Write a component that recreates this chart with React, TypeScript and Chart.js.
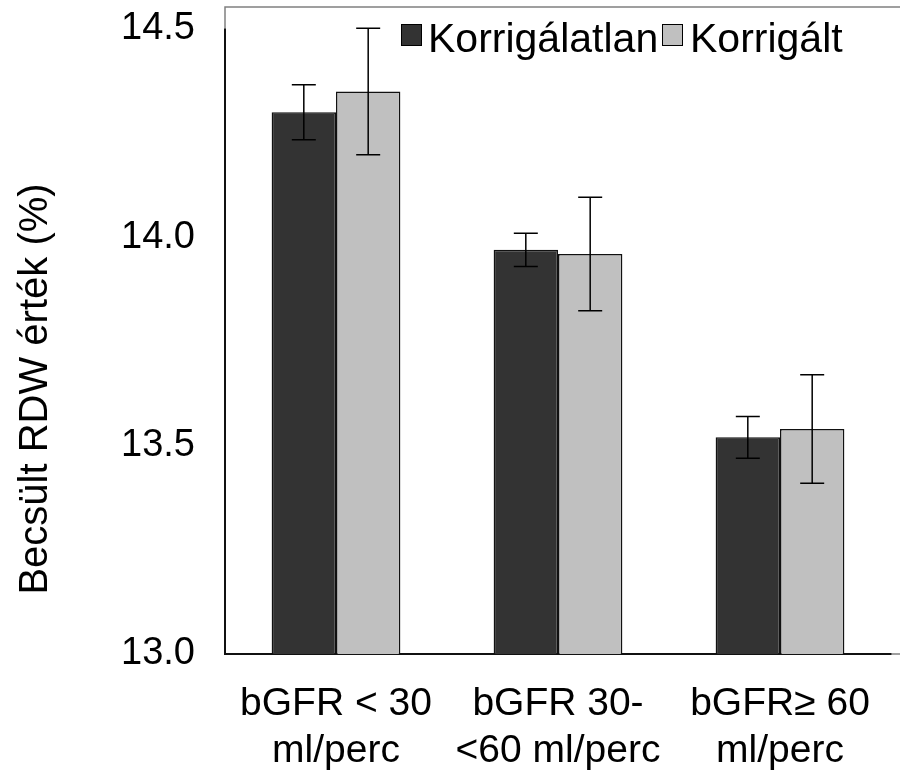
import React, { useEffect, useRef } from "react";
import { Chart, registerables } from "chart.js";

Chart.register(...registerables);

const categories: string[][] = [
  ["bGFR < 30", "ml/perc"],
  ["bGFR 30-", "<60 ml/perc"],
  ["bGFR≥ 60", "ml/perc"],
];
const seriesNames = ["Korrigálatlan", "Korrigált"];
const uncorrected = [14.3, 13.97, 13.52];
const uncorrectedErr = [0.066, 0.04, 0.05];
const corrected = [14.35, 13.96, 13.54];
const correctedErr = [0.152, 0.136, 0.13];
const yTicks = [13.0, 13.5, 14.0, 14.5];
const yTitle = "Becsült RDW érték (%)";

const FONT = '"Liberation Sans", Arial, Helvetica, sans-serif';
const DARK = "#333333";
const LIGHT = "#c0c0c0";

const errors = [uncorrectedErr, correctedErr];

const errorBarPlugin = {
  id: "errorBars",
  afterDatasetsDraw(chart: any) {
    const ctx = chart.ctx;
    const y = chart.scales.y;
    ctx.save();
    ctx.strokeStyle = "#000";
    ctx.lineWidth = 1.5;
    chart.data.datasets.forEach((ds: any, i: number) => {
      const meta = chart.getDatasetMeta(i);
      meta.data.forEach((bar: any, j: number) => {
        const v = ds.data[j];
        const e = errors[i][j];
        const yt = y.getPixelForValue(v + e);
        const yb = y.getPixelForValue(v - e);
        const x = bar.x;
        const cap = 12;
        ctx.beginPath();
        ctx.moveTo(x, yt);
        ctx.lineTo(x, yb);
        ctx.moveTo(x - cap, yt);
        ctx.lineTo(x + cap, yt);
        ctx.moveTo(x - cap, yb);
        ctx.lineTo(x + cap, yb);
        ctx.stroke();
      });
    });
    ctx.restore();
  },
};

const decorPlugin = {
  id: "decor",
  afterDraw(chart: any) {
    const ctx = chart.ctx;
    const a = chart.chartArea;
    ctx.save();
    // frame remnants
    ctx.strokeStyle = "#808080";
    ctx.lineWidth = 1.5;
    ctx.beginPath();
    ctx.moveTo(a.left, a.top);
    ctx.lineTo(a.left, 7);
    ctx.lineTo(chart.width, 7);
    ctx.moveTo(a.right, a.bottom);
    ctx.lineTo(chart.width, a.bottom);
    ctx.stroke();

    // legend
    ctx.font = `41px ${FONT}`;
    ctx.textBaseline = "alphabetic";
    ctx.textAlign = "left";
    const colors = [DARK, LIGHT];
    const boxX = [401, 662];
    const textX = [428, 690];
    seriesNames.forEach((name, i) => {
      ctx.fillStyle = colors[i];
      ctx.fillRect(boxX[i], 24, 20, 21);
      ctx.strokeStyle = "#000";
      ctx.lineWidth = 1;
      ctx.strokeRect(boxX[i] + 0.5, 24.5, 20, 21);
      ctx.fillStyle = "#000";
      ctx.fillText(name, textX[i], 52);
    });

    // y title
    ctx.save();
    ctx.translate(36, 389);
    ctx.rotate(-Math.PI / 2);
    ctx.font = `40px ${FONT}`;
    ctx.textAlign = "center";
    ctx.textBaseline = "middle";
    ctx.fillStyle = "#000";
    ctx.fillText(yTitle, 0, 0);
    ctx.restore();
    ctx.restore();
  },
};

export default function App() {
  const ref = useRef<HTMLCanvasElement>(null);
  useEffect(() => {
    if (!ref.current) return;
    const chart = new Chart(ref.current, {
      type: "bar",
      data: {
        labels: categories,
        datasets: [
          {
            label: seriesNames[0],
            data: uncorrected,
            backgroundColor: DARK,
            borderColor: "#111",
            borderWidth: 1.5,
            categoryPercentage: 0.58,
            barPercentage: 1.0,
          },
          {
            label: seriesNames[1],
            data: corrected,
            backgroundColor: LIGHT,
            borderColor: "#111",
            borderWidth: 1.5,
            categoryPercentage: 0.58,
            barPercentage: 1.0,
          },
        ],
      },
      options: {
        animation: false,
        responsive: false,
        maintainAspectRatio: false,
        layout: { padding: { left: 0, right: 9, top: 29, bottom: 0 } },
        plugins: {
          legend: { display: false },
          tooltip: { enabled: false },
        },
        scales: {
          y: {
            min: yTicks[0],
            max: yTicks[yTicks.length - 1],
            afterBuildTicks: (s: any) => {
              s.ticks = yTicks.map((v) => ({ value: v }));
            },
            afterFit: (s: any) => {
              s.width = 225;
              s.paddingTop = 0;
              s.paddingBottom = 0;
            },
            ticks: {
              callback: (v: any) => Number(v).toFixed(1),
              font: { size: 38, family: FONT },
              color: "#000",
              padding: 30,
            },
            grid: { display: false, drawTicks: false },
            border: { display: true, color: "#111", width: 2 },
          },
          x: {
            afterFit: (s: any) => {
              s.height = 126;
              s.paddingLeft = 0;
              s.paddingRight = 0;
            },
            ticks: {
              font: { size: 39, family: FONT },
              color: "#000",
              padding: 27,
              maxRotation: 0,
              autoSkip: false,
            },
            grid: { display: false, drawTicks: false },
            border: { display: true, color: "#111", width: 2 },
          },
        },
      },
      plugins: [errorBarPlugin, decorPlugin],
    });
    return () => chart.destroy();
  }, []);
  return (
    <div style={{ position: "absolute", left: 0, top: 0, width: 900, height: 780, background: "#fff" }}>
      <canvas ref={ref} width={900} height={780} style={{ display: "block" }} />
    </div>
  );
}
